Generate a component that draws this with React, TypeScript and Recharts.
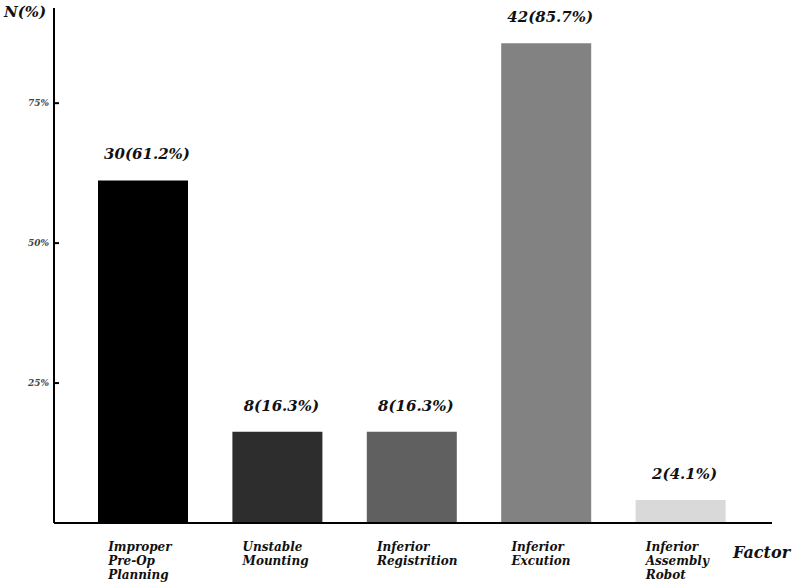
import { Bar, BarChart, Cell, LabelList, XAxis, YAxis } from "recharts";

const FONT = "'DejaVu Serif', Georgia, serif";

const factors = [
  ["Improper", "Pre-Op", "Planning"],
  ["Unstable", "Mounting"],
  ["Inferior", "Registrition"],
  ["Inferior", "Excution"],
  ["Inferior", "Assembly", "Robot"],
];
const counts = [30, 8, 8, 42, 2];
const percents = [61.2, 16.3, 16.3, 85.7, 4.1];
const barColors = ["#000000", "#2d2d2d", "#606060", "#828282", "#d9d9d9"];
const yTicks = [25, 50, 75];

const data = factors.map((lines, i) => ({
  name: lines.join(" "),
  lines,
  count: counts[i],
  pct: percents[i],
}));

function CategoryTick(props: any) {
  const { x, y, index } = props;
  const lines: string[] = data[index]?.lines ?? [];
  return (
    <text
      x={x - 35}
      y={y + 28}
      textAnchor="start"
      fontFamily={FONT}
      fontStyle="italic"
      fontWeight="bold"
      fontSize={12}
      fill="#111"
    >
      {lines.map((l, i) => (
        <tspan key={i} x={x - 35} dy={i === 0 ? 0 : 14}>
          {l}
        </tspan>
      ))}
    </text>
  );
}

function PercentTick(props: any) {
  const { x, y, payload } = props;
  return (
    <g>
      <line x1={x + 5} x2={x + 10} y1={y} y2={y} stroke="#000" strokeWidth={2} />
      <text
        x={x}
        y={y + 3}
        textAnchor="end"
        fontFamily={FONT}
        fontStyle="italic"
        fontWeight="bold"
        fontSize={9}
        fill="#444"
      >
        {payload.value}%
      </text>
    </g>
  );
}

function ValueLabel(props: any) {
  const { x, y, width, index } = props;
  const d = data[index];
  return (
    <text
      x={x + width / 2 + 4}
      y={y - 21}
      textAnchor="middle"
      fontFamily={FONT}
      fontStyle="italic"
      fontWeight="bold"
      fontSize={15}
      fill="#111"
    >
      {`${d.count}(${d.pct}%)`}
    </text>
  );
}

export default function App() {
  return (
    <div style={{ position: "absolute", left: 0, top: 0, width: 800, height: 584, background: "#fff" }}>
      <BarChart
        width={800}
        height={584}
        data={data}
        margin={{ top: 8, right: 28, bottom: 0, left: 0 }}
        barSize={90}
      >
        <YAxis
          width={54}
          domain={[0, 92]}
          ticks={yTicks}
          tickSize={0}
          tickMargin={5}
          tickLine={false}
          axisLine={{ stroke: "#000", strokeWidth: 2 }}
          tick={<PercentTick />}
        />
        <XAxis
          dataKey="name"
          height={61}
          interval={0}
          padding={{ left: 22, right: 24 }}
          tickSize={0}
          tickMargin={0}
          tickLine={false}
          axisLine={{ stroke: "#000", strokeWidth: 2 }}
          tick={<CategoryTick />}
        />
        <Bar dataKey="pct" isAnimationActive={false}>
          {data.map((d, i) => (
            <Cell key={d.name} fill={barColors[i]} />
          ))}
          <LabelList dataKey="pct" content={<ValueLabel />} />
        </Bar>
      </BarChart>
      <div
        style={{
          position: "absolute",
          left: 4,
          top: 3,
          fontFamily: FONT,
          fontStyle: "italic",
          fontWeight: "bold",
          fontSize: 15,
          color: "#111",
        }}
      >
        N(%)
      </div>
      <div
        style={{
          position: "absolute",
          left: 733,
          top: 543,
          fontFamily: FONT,
          fontStyle: "italic",
          fontWeight: "bold",
          fontSize: 16,
          color: "#111",
        }}
      >
        Factor
      </div>
    </div>
  );
}
